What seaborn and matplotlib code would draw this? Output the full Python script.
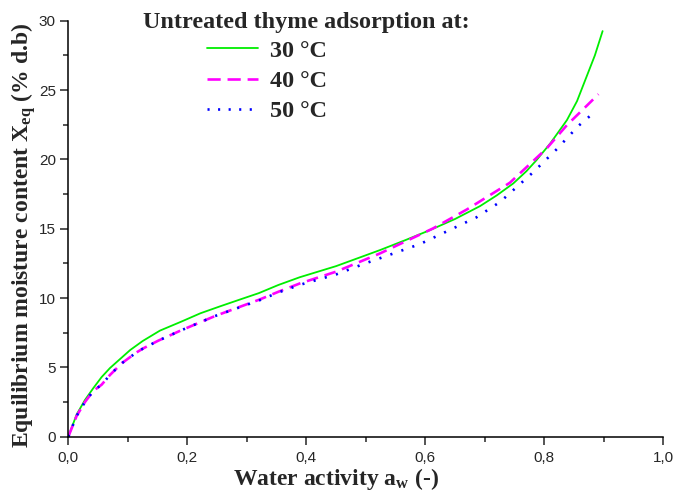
import matplotlib
matplotlib.use("Agg")
import matplotlib.pyplot as plt
import seaborn as sns
import numpy as np
import pandas as pd
from matplotlib.ticker import MultipleLocator, FuncFormatter
from matplotlib.lines import Line2D

# ---- data ----
aw_30 = [0.0, 0.014, 0.028, 0.042, 0.056, 0.07, 0.087, 0.104, 0.125, 0.154, 0.19, 0.222, 0.255,
         0.289, 0.32, 0.353, 0.389, 0.45, 0.524, 0.565, 0.608, 0.65, 0.692, 0.72, 0.748, 0.77,
         0.787, 0.81, 0.838, 0.855, 0.871, 0.885, 0.898]
x_30 = [0.0, 1.6, 2.65, 3.5, 4.3, 4.95, 5.6, 6.25, 6.9, 7.65, 8.3, 8.9, 9.4,
        9.9, 10.35, 10.94, 11.5, 12.3, 13.46, 14.15, 14.9, 15.7, 16.63, 17.4, 18.27, 19.15,
        19.95, 21.15, 22.83, 24.2, 25.96, 27.5, 29.25]

aw_40 = [0.0, 0.014, 0.028, 0.042, 0.056, 0.07, 0.09, 0.114, 0.126, 0.151, 0.188, 0.2465, 0.322,
         0.353, 0.389, 0.45, 0.524, 0.613, 0.67, 0.742, 0.804, 0.838, 0.865, 0.891]
x_40 = [0.0, 1.5, 2.5, 3.3, 3.75, 4.45, 5.3, 6.06, 6.37, 6.92, 7.64, 8.7, 9.9,
        10.45, 11.05, 11.9, 13.22, 15.02, 16.39, 18.31, 20.79, 22.47, 23.6, 24.7]

aw_50 = [0.0, 0.014, 0.028, 0.042, 0.056, 0.07, 0.09, 0.114, 0.126, 0.151, 0.188, 0.2465, 0.322,
         0.353, 0.389, 0.45, 0.496, 0.591, 0.686, 0.726, 0.782, 0.821, 0.857, 0.876]
x_50 = [0.0, 1.5, 2.5, 3.3, 3.75, 4.45, 5.3, 6.06, 6.37, 6.92, 7.64, 8.7, 9.85,
        10.4, 10.95, 11.7, 12.45, 13.89, 15.82, 16.94, 19.1, 20.74, 22.4, 23.1]

labels = ["30 °C", "40 °C", "50 °C"]
legend_title = "Untreated thyme adsorption at:"
x_label = r"Water activity a$_{\mathrm{w}}$ (-)"
y_label = r"Equilibrium moisture content X$_{\mathrm{eq}}$ (% d.b)"
x_ticks = [0.0, 0.2, 0.4, 0.6, 0.8, 1.0]
y_ticks = [0, 5, 10, 15, 20, 25, 30]

sns.set_style("ticks")
plt.rcParams["mathtext.fontset"] = "custom"
plt.rcParams["mathtext.rm"] = "Liberation Serif:bold"
plt.rcParams["mathtext.it"] = "Liberation Serif:bold"
plt.rcParams["mathtext.bf"] = "Liberation Serif:bold"

GREEN, MAGENTA, BLUE = "#00ee00", "#ff00ff", "#0000ff"
DASH = (0, (4.4, 2.6))
DOT = (0, (0.8, 3.6))

fig = plt.figure(figsize=(6.89, 4.94), dpi=100)
ax = fig.add_axes([68.3/689, 1-436.7/494, (663.3-68.3)/689, (436.7-20.7)/494])

df30 = pd.DataFrame({"aw": aw_30, "X": x_30})
df40 = pd.DataFrame({"aw": aw_40, "X": x_40})
df50 = pd.DataFrame({"aw": aw_50, "X": x_50})

sns.lineplot(data=df30, x="aw", y="X", ax=ax, color=GREEN, lw=1.3, sort=False)
sns.lineplot(data=df40, x="aw", y="X", ax=ax, color=MAGENTA, lw=1.9, sort=False)
sns.lineplot(data=df50, x="aw", y="X", ax=ax, color=BLUE, lw=1.9, sort=False)
ax.lines[1].set_linestyle(DASH)
ax.lines[2].set_linestyle(DOT)

ax.set_xlim(0, 1.0)
ax.set_ylim(0, 30)
ax.set_xticks(x_ticks)
ax.set_yticks(y_ticks)
ax.xaxis.set_minor_locator(MultipleLocator(0.1))
ax.yaxis.set_minor_locator(MultipleLocator(2.5))
ax.xaxis.set_major_formatter(FuncFormatter(lambda v, p: f"{v:.1f}".replace(".", ",")))
ax.yaxis.set_major_formatter(FuncFormatter(lambda v, p: f"{v:.0f}"))
ax.tick_params(which="major", direction="out", length=6, width=1.1, labelsize=11)
ax.tick_params(axis="x", which="major", pad=4)
ax.tick_params(axis="y", which="major", pad=3)
ax.tick_params(which="minor", direction="out", length=3.5, width=1.1)
for t in ax.get_xticklabels() + ax.get_yticklabels():
    t.set_fontfamily("Liberation Sans")
sns.despine(ax=ax)
for s in ["left", "bottom"]:
    ax.spines[s].set_linewidth(1.1)
    ax.spines[s].set_color("black")
ax.set_xlabel("")
ax.set_ylabel("")

fig.text(335.5/689, 1-485/494, x_label, fontfamily="Liberation Serif", fontweight="bold",
         fontsize=17, ha="center", va="baseline")
fig.text(24/689, 1-235.5/494, y_label, fontfamily="Liberation Serif", fontweight="bold",
         fontsize=17, ha="center", va="center", rotation=90)

fig.text(143/689, 1-28/494, legend_title, fontfamily="Liberation Serif", fontweight="bold",
         fontsize=17.4, ha="left", va="baseline")
handles = [Line2D([], [], color=GREEN, lw=1.3),
           Line2D([], [], color=MAGENTA, lw=1.9, linestyle=(0, (5, 2.6))),
           Line2D([], [], color=BLUE, lw=1.9, linestyle=(0, (0.8, 3.2)))]
leg = ax.legend(handles, labels, loc="upper left", bbox_to_anchor=(207/689, 1-40/494),
                bbox_transform=fig.transFigure, frameon=False, handlelength=2.1,
                handletextpad=0.5, labelspacing=0.34, borderpad=0, borderaxespad=0,
                prop={"family": "Liberation Serif", "weight": "bold", "size": 17.4})

fig.savefig("out.png", dpi=100)
